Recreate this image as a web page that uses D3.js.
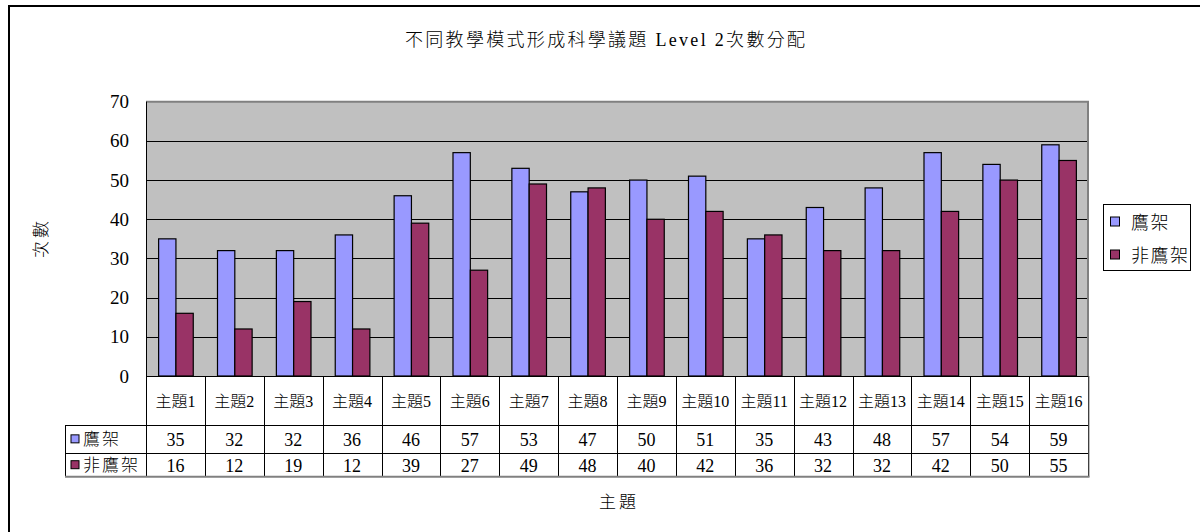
<!DOCTYPE html>
<html>
<head>
<meta charset="utf-8">
<script src="https://cdn.jsdelivr.net/npm/d3@7/dist/d3.min.js"></script>
<style>
  html, body { margin: 0; padding: 0; background: #fff; }
  svg { display: block; }
  text { font-family: "Liberation Serif", "Noto Sans CJK TC", serif; fill: #000; font-weight: 300; }
</style>
</head>
<body>
<svg id="chart" width="1200" height="532"></svg>
<script>
// Topics and counts per teaching mode
const categories = ["主題1","主題2","主題3","主題4","主題5","主題6","主題7","主題8",
                    "主題9","主題10","主題11","主題12","主題13","主題14","主題15","主題16"];
const seriesNames = ["鷹架", "非鷹架"];
const scaffolded = [35, 32, 32, 36, 46, 57, 53, 47, 50, 51, 35, 43, 48, 57, 54, 59];
const nonScaffolded = [16, 12, 19, 12, 39, 27, 49, 48, 40, 42, 36, 32, 32, 42, 50, 55];
const yTicks = [0, 10, 20, 30, 40, 50, 60, 70];
const titleText = "不同教學模式形成科學議題 Level 2次數分配";
const yTitle = "次數";
const xTitle = "主題";

const seriesValues = [scaffolded, nonScaffolded];
const colors = ["#9999FF", "#993366"];

const svg = d3.select("#chart");

// Outer chart frame (left and top edges visible)
svg.append("path")
  .attr("d", "M9,540 V6 H1210")
  .attr("fill", "none").attr("stroke", "#000").attr("stroke-width", 2);

// Plot geometry
const plotLeft = 146, plotRight = 1088, plotTop = 101.7, plotBottom = 376;
const x = d3.scaleBand().domain(categories).range([plotLeft, plotRight]).padding(0);
const xSub = d3.scaleBand().domain(seriesNames).range([0, x.bandwidth()])
  .paddingInner(0).paddingOuter(0.7);
const y = d3.scaleLinear().domain([0, 70]).range([plotBottom, plotTop]);

// Plot background
svg.append("rect")
  .attr("x", plotLeft).attr("y", plotTop)
  .attr("width", plotRight - plotLeft).attr("height", plotBottom - plotTop)
  .attr("fill", "#C0C0C0");

// Gridlines
svg.append("g").selectAll("line").data(yTicks.filter(d => d > 0 && d < 70)).join("line")
  .attr("x1", plotLeft).attr("x2", plotRight)
  .attr("y1", d => Math.round(y(d)) + 0.5).attr("y2", d => Math.round(y(d)) + 0.5)
  .attr("stroke", "#000").attr("stroke-width", 1);

// Plot frame: grey top and right, black left axis
svg.append("path")
  .attr("d", `M${plotLeft},${plotTop} H${plotRight} V${plotBottom}`)
  .attr("fill", "none").attr("stroke", "#808080").attr("stroke-width", 2);
svg.append("line")
  .attr("x1", plotLeft + 0.5).attr("x2", plotLeft + 0.5)
  .attr("y1", plotTop).attr("y2", plotBottom)
  .attr("stroke", "#000").attr("stroke-width", 1);

// Bars
const groups = svg.append("g").selectAll("g").data(categories).join("g")
  .attr("transform", d => `translate(${x(d)},0)`);
groups.selectAll("rect")
  .data((c, i) => seriesNames.map((s, k) => ({ s, k, v: seriesValues[k][i] })))
  .join("rect")
  .attr("x", d => xSub(d.s) + 0.5)
  .attr("y", d => y(d.v))
  .attr("width", xSub.bandwidth())
  .attr("height", d => y(0) - y(d.v))
  .attr("fill", d => colors[d.k])
  .attr("stroke", "#000").attr("stroke-width", 1.2);

// Y tick labels
svg.append("g").selectAll("text").data(yTicks).join("text")
  .attr("x", 129).attr("y", d => y(d))
  .attr("text-anchor", "end").attr("dominant-baseline", "central")
  .attr("font-size", 19)
  .text(d => d);

// Data table
const rowCat = [376, 425], row1 = [425, 452.7], row2 = [452.7, 476.7];
const tableLeft = 65;
const table = svg.append("g");

// Column separators
table.selectAll("line.col").data(categories.map(c => x(c)).concat([plotRight])).join("line")
  .attr("class", "col")
  .attr("x1", d => Math.round(d) + 0.5).attr("x2", d => Math.round(d) + 0.5)
  .attr("y1", plotBottom).attr("y2", row2[1])
  .attr("stroke", "#000").attr("stroke-width", 1);

// Row lines
[[rowCat[0], plotLeft], [row1[0], tableLeft], [row2[0], tableLeft]].forEach(([yy, x0]) => {
  table.append("line")
    .attr("x1", x0).attr("x2", plotRight + 1)
    .attr("y1", Math.round(yy) + 0.5).attr("y2", Math.round(yy) + 0.5)
    .attr("stroke", "#000").attr("stroke-width", 1);
});
table.append("line")
  .attr("x1", tableLeft + 0.5).attr("x2", tableLeft + 0.5)
  .attr("y1", row1[0]).attr("y2", row2[1])
  .attr("stroke", "#000").attr("stroke-width", 1);
table.append("line")
  .attr("x1", tableLeft).attr("x2", plotRight + 1.5)
  .attr("y1", row2[1]).attr("y2", row2[1])
  .attr("stroke", "#808080").attr("stroke-width", 2);
table.append("line")
  .attr("x1", plotRight + 1).attr("x2", plotRight + 1)
  .attr("y1", plotBottom).attr("y2", row2[1])
  .attr("stroke", "#808080").attr("stroke-width", 1);

// Category labels
table.selectAll("text.cat").data(categories).join("text")
  .attr("class", "cat")
  .attr("x", d => x(d) + x.bandwidth() / 2)
  .attr("y", (rowCat[0] + rowCat[1]) / 2 + 1)
  .attr("text-anchor", "middle").attr("dominant-baseline", "central")
  .attr("font-size", 16)
  .text(d => d);

// Value rows with legend keys
[row1, row2].forEach((row, k) => {
  const cy = (row[0] + row[1]) / 2;
  table.append("rect")
    .attr("x", 71).attr("y", cy - 4).attr("width", 8).attr("height", 8)
    .attr("fill", colors[k]).attr("stroke", "#000").attr("stroke-width", 1);
  table.append("text")
    .attr("x", 83).attr("y", cy + 1)
    .attr("dominant-baseline", "central")
    .attr("font-size", 17).attr("letter-spacing", 2)
    .text(seriesNames[k]);
  table.selectAll(null).data(seriesValues[k]).join("text")
    .attr("x", (d, i) => x(categories[i]) + x.bandwidth() / 2)
    .attr("y", cy + 1)
    .attr("text-anchor", "middle").attr("dominant-baseline", "central")
    .attr("font-size", 18)
    .text(d => d);
});

// Legend
const legend = svg.append("g");
legend.append("rect")
  .attr("x", 1103.5).attr("y", 204.5).attr("width", 87).attr("height", 66)
  .attr("fill", "#fff").attr("stroke", "#000").attr("stroke-width", 1);
seriesNames.forEach((s, k) => {
  const cy = 221.5 + k * 33;
  legend.append("rect")
    .attr("x", 1110.5).attr("y", cy - 4.5).attr("width", 9).attr("height", 9)
    .attr("fill", colors[k]).attr("stroke", "#000").attr("stroke-width", 1);
  legend.append("text")
    .attr("x", 1131).attr("y", cy + 1)
    .attr("dominant-baseline", "central")
    .attr("font-size", 18).attr("letter-spacing", 1.5)
    .text(s);
});

// Titles
svg.append("text")
  .attr("x", 605).attr("y", 40)
  .attr("text-anchor", "middle").attr("dominant-baseline", "central")
  .attr("font-size", 18)
  .attr("textLength", 400).attr("lengthAdjust", "spacing")
  .text(titleText);

svg.append("text")
  .attr("transform", "translate(41,238) rotate(-90)")
  .attr("text-anchor", "middle").attr("dominant-baseline", "central")
  .attr("font-size", 17).attr("letter-spacing", 3)
  .text(yTitle);

svg.append("text")
  .attr("x", 619).attr("y", 502)
  .attr("text-anchor", "middle").attr("dominant-baseline", "central")
  .attr("font-size", 17).attr("letter-spacing", 3)
  .text(xTitle);
</script>
</body>
</html>
